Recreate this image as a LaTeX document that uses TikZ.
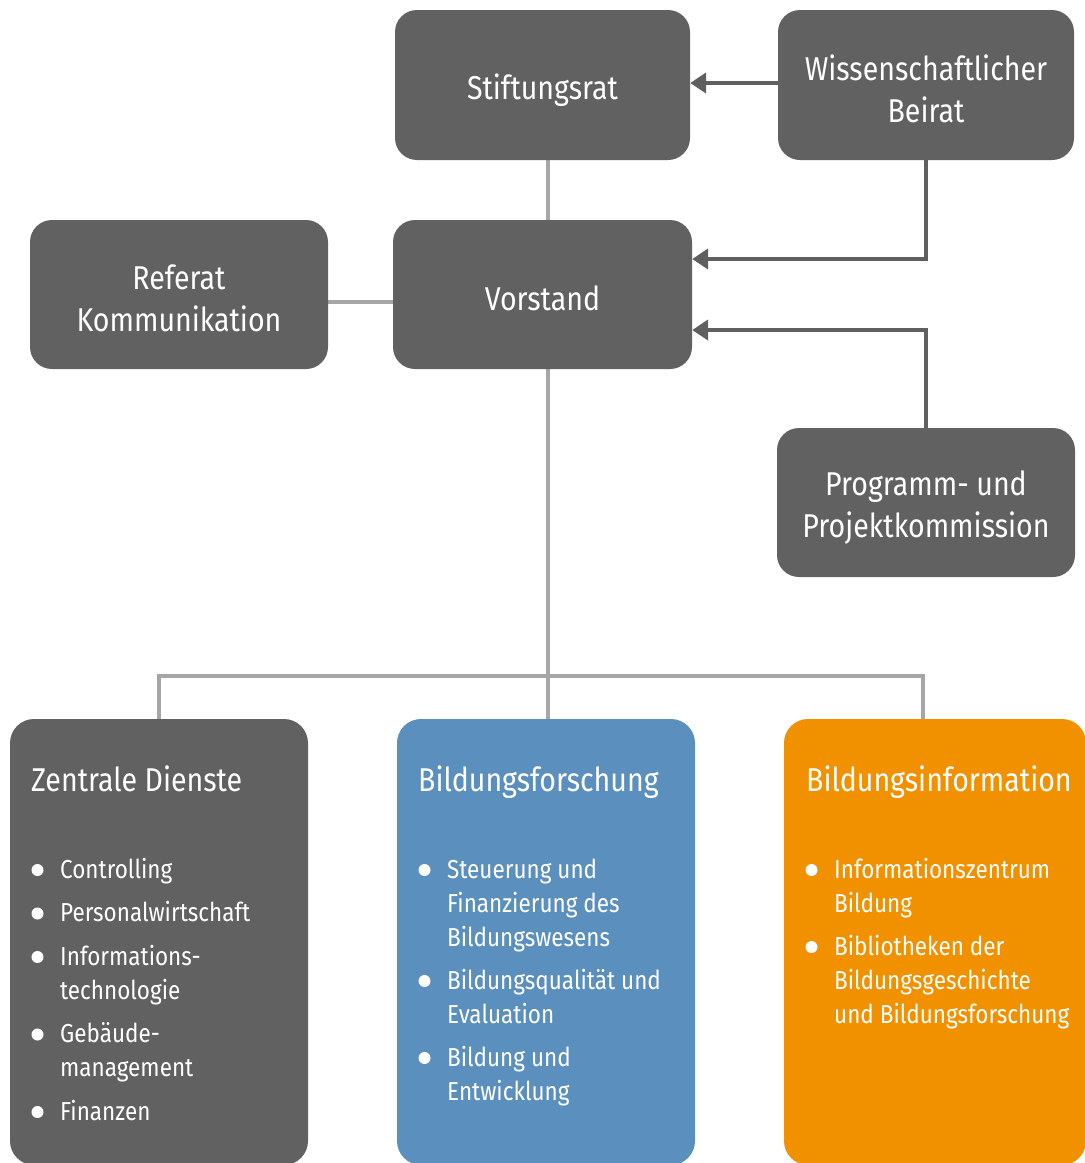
\documentclass[tikz,border=0pt]{standalone}
\usepackage{fontspec}
\setmainfont[FakeStretch=0.865]{Fira Sans}
\usetikzlibrary{arrows.meta,backgrounds}
\definecolor{dg}{HTML}{616161}
\definecolor{bl}{HTML}{5B8FBD}
\definecolor{og}{HTML}{F29100}
\definecolor{lg}{HTML}{A6A6A6}
\definecolor{ag}{HTML}{5F5F5F}
\newcommand\bitem[4]{%
  \fill[white] (#2-22.5,#3-8) circle (6pt);
  \node[itemtext, anchor=base west] (#1) at (#2,#3) {\parbox[t]{260pt}{\raggedright #4}};}
\begin{document}
\begin{tikzpicture}[x=1pt,y=-1pt,
  box/.style={fill=dg, rounded corners=22pt, inner sep=0pt},
  boxtext/.style={text=white, align=center, inner sep=0pt, font=\fontsize{33}{42}\selectfont},
  big/.style={rounded corners=24pt, inner sep=0pt, minimum height=446pt},
  title/.style={text=white, inner sep=0pt, font=\fontsize{33}{40}\selectfont},
  itemtext/.style={text=white, inner sep=0pt, font=\fontsize{26}{34}\selectfont},
  conn/.style={draw=lg, line width=3.5pt},
  arr/.style={draw=ag, line width=4pt, -{Triangle[length=16pt,width=20pt]}}]
\useasboundingbox (0,0) rectangle (1085,1163);

% top boxes
\node[box, minimum width=295pt, minimum height=150pt] (stift) at (542.5,85) {};
\node[box, minimum width=296pt, minimum height=150pt] (beirat) at (926,85) {};
\node[box, minimum width=298pt, minimum height=149pt] (ref) at (179,294.5) {};
\node[box, minimum width=299pt, minimum height=149pt] (vor) at (542.5,294.5) {};
\node[box, minimum width=298pt, minimum height=149pt] (prog) at (926,502.5) {};
\node[boxtext] (stiftT) at ([yshift=-5pt]stift.center) {Stiftungsrat};
\node[boxtext] (beiratT) at ([yshift=-4pt]beirat.center) {Wissenschaftlicher\\Beirat};
\node[boxtext] (refT) at ([yshift=-4pt]ref.center) {Referat\\Kommunikation};
\node[boxtext] (vorT) at ([yshift=-4pt]vor.center) {Vorstand};
\node[boxtext] (progT) at ([yshift=-5pt]prog.center) {Programm- und\\Projektkommission};

% bottom boxes
\node[big, fill=dg, minimum width=298pt] (zd) at (159,942) {};
\node[big, fill=bl, minimum width=298pt] (bf) at (546,942) {};
\node[big, fill=og, minimum width=302pt] (bi) at (935,942) {};

% connectors
\begin{scope}[on background layer]
\draw[conn] ([xshift=5.5pt]stift.south) -- ([xshift=5.5pt]vor.north);
\draw[conn] ([yshift=-7.5pt]ref.east) -- ([yshift=-7.5pt]vor.west);
\draw[conn] ([xshift=5.5pt]vor.south) -- ([xshift=2pt]bf.north);
\coordinate (bar) at (548,676);
\draw[conn] (zd.north) |- (bar) -| ([xshift=-12pt]bi.north);
\end{scope}
\draw[arr] ([yshift=2pt]beirat.west) -- ([yshift=2pt]stift.east);
\draw[arr] (beirat.south) |- ([yshift=35.5pt]vor.east);
\draw[arr] (prog.north) |- ([yshift=-35.5pt]vor.east);

% titles
\node[title, anchor=base west] (zdt) at (31,791) {Zentrale Dienste};
\node[title, anchor=base west] (bft) at (418,791) {Bildungsforschung};
\node[title, anchor=base west] (bit) at (806,791) {Bildungsinformation};

% lists
\bitem{z1}{60}{878}{Controlling}
\bitem{z2}{60}{921.5}{Personalwirtschaft}
\bitem{z3}{60}{965}{Informations-\\technologie}
\bitem{z4}{60}{1042.5}{Gebäude-\\management}
\bitem{z5}{60}{1120}{Finanzen}

\bitem{f1}{447}{878}{Steuerung und\\Finanzierung des\\Bildungswesens}
\bitem{f2}{447}{989}{Bildungsqualität und\\Evaluation}
\bitem{f3}{447}{1066}{Bildung und\\Entwicklung}

\bitem{i1}{834}{878}{Informationszentrum\\Bildung}
\bitem{i2}{834}{955}{Bibliotheken der\\Bildungsgeschichte\\und Bildungsforschung}
\end{tikzpicture}
\end{document}
